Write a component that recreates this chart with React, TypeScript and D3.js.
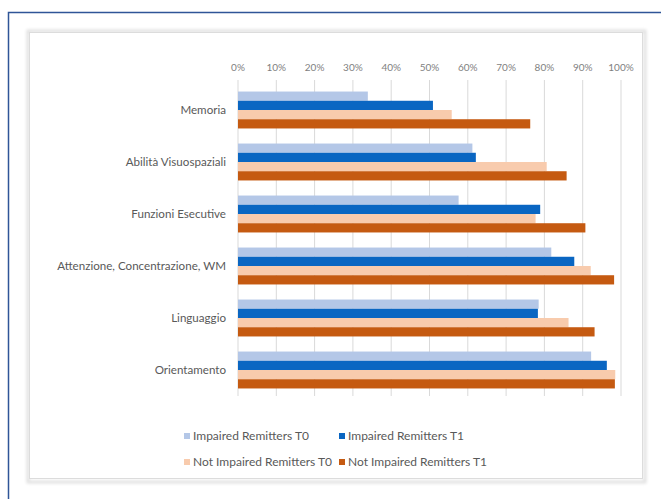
import React from "react";
import * as d3 from "d3";

const categories = [
  "Memoria",
  "Abilità Visuospaziali",
  "Funzioni Esecutive",
  "Attenzione, Concentrazione, WM",
  "Linguaggio",
  "Orientamento",
];
const seriesNames = [
  "Impaired Remitters T0",
  "Impaired Remitters T1",
  "Not Impaired Remitters T0",
  "Not Impaired Remitters T1",
];
const impairedT0 = [0.339, 0.612, 0.576, 0.818, 0.785, 0.922];
const impairedT1 = [0.509, 0.621, 0.789, 0.878, 0.783, 0.963];
const notImpairedT0 = [0.558, 0.806, 0.777, 0.921, 0.863, 0.985];
const notImpairedT1 = [0.763, 0.858, 0.907, 0.982, 0.931, 0.984];
const seriesValues = [impairedT0, impairedT1, notImpairedT0, notImpairedT1];
const colors = ["#b4c7e7", "#0a66c2", "#f8cbad", "#c55a11"];
const ticks = [0, 0.1, 0.2, 0.3, 0.4, 0.5, 0.6, 0.7, 0.8, 0.9, 1.0];

const W = 661;
const H = 499;
const font = "Lato, 'Liberation Sans', sans-serif";

export default function App() {
  const x = d3.scaleLinear().domain([0, 1]).range([238, 621]);
  const y = d3
    .scaleBand<string>()
    .domain(categories)
    .range([84, 396])
    .paddingInner(0.29)
    .paddingOuter(0.145);
  const ys = d3
    .scaleBand<string>()
    .domain(seriesNames)
    .range([0, y.bandwidth()])
    .padding(0);
  const fmt = d3.format(".0%");

  const legend = [
    { i: 0, lx: 187, ly: 436 },
    { i: 1, lx: 342, ly: 436 },
    { i: 2, lx: 187, ly: 462 },
    { i: 3, lx: 342, ly: 462 },
  ];

  return (
    <svg
      width={W}
      height={H}
      style={{ position: "absolute", left: 0, top: 0, display: "block", background: "#fff" }}
    >
      <defs>
        <filter id="sh" x="-5%" y="-5%" width="110%" height="110%">
          <feGaussianBlur stdDeviation="1.5" />
        </filter>
      </defs>
      <rect x={0} y={0} width={W} height={H} fill="#fff" />
      <rect
        x={8.5}
        y={12.5}
        width={W + 20}
        height={H + 20}
        fill="#fff"
        stroke="#2f5597"
        strokeWidth={1.5}
      />
      <rect x={28} y={31} width={617} height={451} fill="none" stroke="#e0e0e0" strokeWidth={3} filter="url(#sh)" />
      <rect x={29.5} y={32.5} width={613} height={446} fill="#fff" stroke="#dcdcdc" strokeWidth={1} />
      <g>
        {ticks.map((t) => (
          <g key={t}>
            <line x1={x(t)} x2={x(t)} y1={80} y2={396} stroke="#d9d9d9" strokeWidth={1} />
            <text
              x={x(t)}
              y={71}
              textAnchor="middle"
              fontSize={10}
              fontFamily={font}
              fill="#7f7f7f"
            >
              {fmt(t)}
            </text>
          </g>
        ))}
      </g>
      <g>
        {seriesValues.map((vals, si) =>
          vals.map((v, ci) => (
            <rect
              key={si + "-" + ci}
              x={x(0)}
              y={(y(categories[ci]) as number) + (ys(seriesNames[si]) as number)}
              width={x(v) - x(0)}
              height={ys.bandwidth()}
              fill={colors[si]}
            />
          ))
        )}
      </g>
      <g>
        {categories.map((c) => (
          <text
            key={c}
            x={226}
            y={(y(c) as number) + y.bandwidth() / 2 + 4}
            textAnchor="end"
            fontSize={11.6}
            fontFamily={font}
            fill="#595959"
          >
            {c}
          </text>
        ))}
      </g>
      <g>
        {legend.map(({ i, lx, ly }) => (
          <g key={i}>
            <rect x={lx - 3} y={ly - 3} width={6} height={6} fill={colors[i]} />
            <text x={lx + 6} y={ly + 4} fontSize={12} fontFamily={font} fill="#595959">
              {seriesNames[i]}
            </text>
          </g>
        ))}
      </g>
    </svg>
  );
}
